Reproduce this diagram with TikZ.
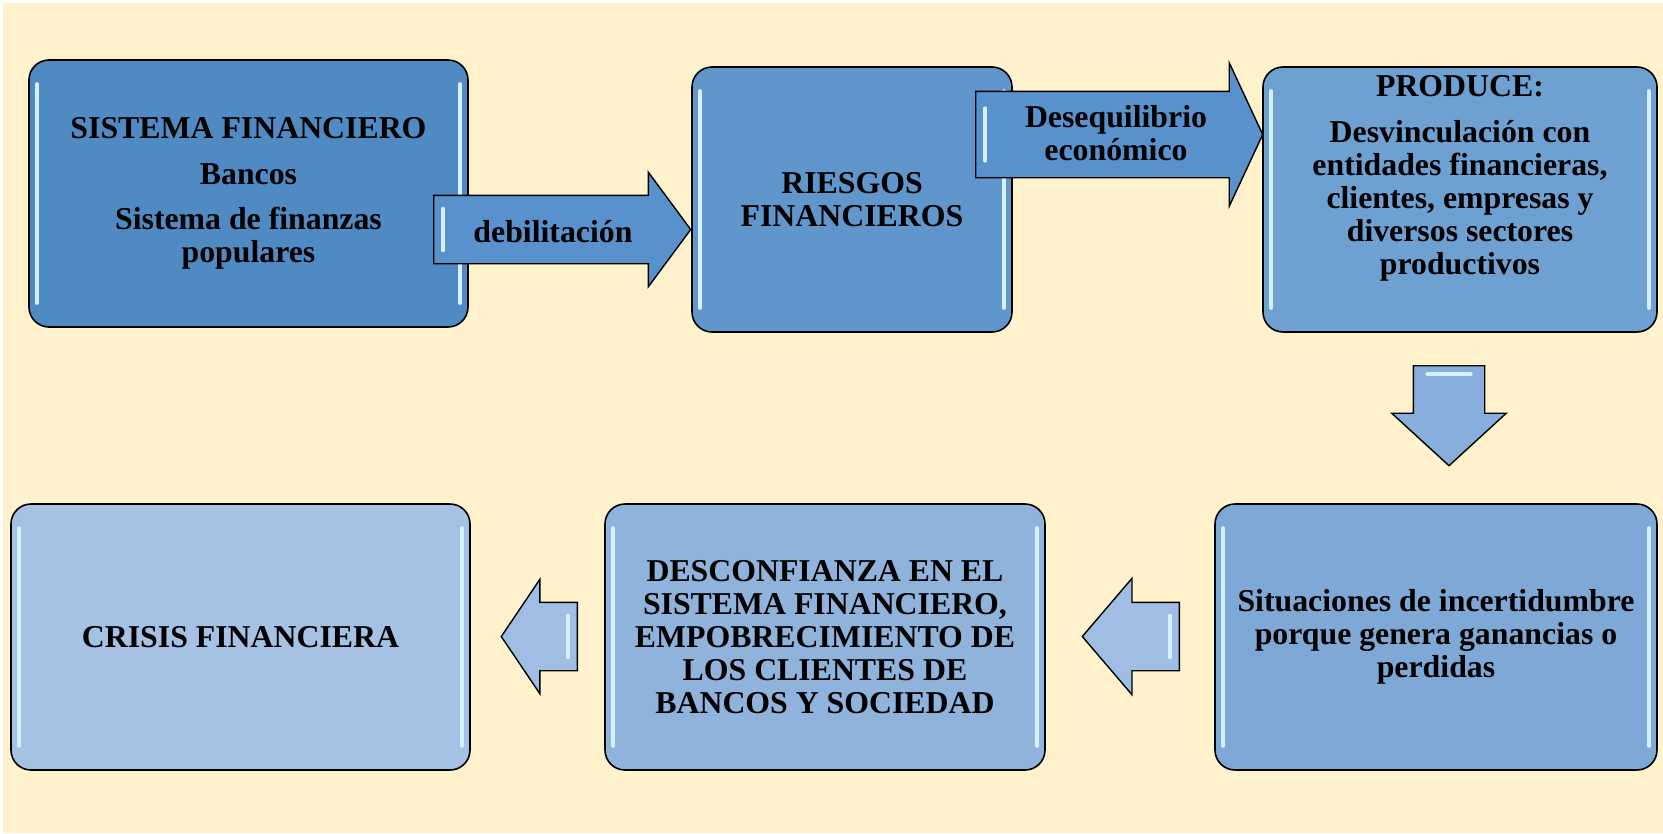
\documentclass[tikz,border=0pt]{standalone}
\usepackage{fontspec}
\setmainfont{Liberation Serif}
\usetikzlibrary{shapes.arrows, calc}

\definecolor{fondo}{RGB}{255,242,204}
\definecolor{azulA}{RGB}{80,138,194}
\definecolor{azulB}{RGB}{96,150,203}
\definecolor{azulC}{RGB}{110,160,210}
\definecolor{azulD}{RGB}{126,168,214}
\definecolor{azulE}{RGB}{144,179,220}
\definecolor{azulF}{RGB}{165,193,228}
\definecolor{flechaA}{RGB}{88,145,204}
\definecolor{flechaB}{RGB}{135,174,220}
\definecolor{flechaC}{RGB}{160,190,228}
\definecolor{brillo}{RGB}{215,240,255}

\begin{document}
\begin{tikzpicture}[
            x=1pt, y=-1pt,
            every node/.style={font=\fontsize{31.8}{33}\selectfont\bfseries, align=center},
            glint/.style={brillo, line width=3.6pt, line cap=round},
            glossy/.style={path picture={
                \draw[glint]
                    ([xshift=8pt,yshift=-24pt]path picture bounding box.north west) --
                    ([xshift=8pt,yshift=24pt]path picture bounding box.south west);
                \draw[glint]
                    ([xshift=-8pt,yshift=-24pt]path picture bounding box.north east) --
                    ([xshift=-8pt,yshift=24pt]path picture bounding box.south east);
            }},
            box/.style={rectangle, rounded corners=20pt, draw=black, line width=1.6pt, inner sep=0pt, glossy},
            flecha/.style={single arrow, draw=black, line width=1.4pt, inner sep=0pt,
                text height=0pt, text depth=0pt, anchor=tail},
            etiq/.style={inner sep=0pt}
        ]
        % fondo
        \fill[white] (0,0) rectangle (1663,833);
        \fill[fondo] (3,3) rectangle (1663,833);
        \useasboundingbox (0,0) rectangle (1663,833);

        % fila de arriba
        \node (sistema) at (248.5,193.5) [box, fill=azulA, minimum width=439pt, minimum height=267pt]
            {SISTEMA FINANCIERO\\[13pt] Bancos\\[12pt] Sistema de finanzas\\ populares};
        \node (riesgos) at (852,199.5) [box, fill=azulB, minimum width=320pt, minimum height=265pt]
            {RIESGOS\\ FINANCIEROS};
        \node (produce) at (1460,199.5) [box, fill=azulC, minimum width=394pt, minimum height=265pt] {};
        \node (producetxt) at ([yshift=-9pt]produce.north) [etiq, anchor=north]
            {PRODUCE:\\[13pt] Desvinculación con\\ entidades financieras,\\ clientes, empresas y\\ diversos sectores\\ productivos};

        % fila de abajo
        \node (situaciones) at (1436,637) [box, fill=azulD, minimum width=442pt, minimum height=266pt]
            {Situaciones de incertidumbre\\ porque genera ganancias o\\ perdidas};
        \node (desconfianza) at (825,637) [box, fill=azulE, minimum width=440pt, minimum height=266pt]
            {DESCONFIANZA EN EL\\ SISTEMA FINANCIERO,\\ EMPOBRECIMIENTO DE\\ LOS CLIENTES DE\\ BANCOS Y SOCIEDAD};
        \node (crisis) at (240.5,637) [box, fill=azulF, minimum width=459pt, minimum height=266pt]
            {CRISIS FINANCIERA};

        % flechas
        \node (debil) at (433,229.5) [flecha, fill=flechaA, inner ysep=33.5pt, minimum height=257pt,
            single arrow head extend=23pt, single arrow tip angle=107] {};
        \draw[glint] ($(debil.after tail)!0.2!(debil.before tail)+(10,0)$) -- ($(debil.after tail)!0.8!(debil.before tail)+(10,0)$);
        \node (debiltxt) at (553,242) [etiq, anchor=base] {debilitación};

        \node (deseq) at (975,134.5) [flecha, fill=flechaA, inner ysep=42.5pt, minimum height=287pt,
            single arrow head extend=28.5pt, single arrow tip angle=130] {};
        \draw[glint] ($(deseq.after tail)!0.2!(deseq.before tail)+(10,0)$) -- ($(deseq.after tail)!0.8!(deseq.before tail)+(10,0)$);
        \node (deseqtxt) at (1116,133) [etiq] {Desequilibrio\\ económico};

        \node (baja) at (1449,365) [flecha, fill=flechaB, shape border rotate=270, inner xsep=35pt,
            minimum height=100pt, single arrow head extend=21.5pt, single arrow tip angle=95] {};
        \draw[glint] ($(baja.after tail)!0.2!(baja.before tail)+(0,9)$) -- ($(baja.after tail)!0.8!(baja.before tail)+(0,9)$);

        \node (izqB) at (1180,636.5) [flecha, fill=flechaC, shape border rotate=180, inner ysep=33.5pt,
            minimum height=97pt, single arrow head extend=24pt, single arrow tip angle=99] {};
        \draw[glint] ($(izqB.after tail)!0.2!(izqB.before tail)+(-10,0)$) -- ($(izqB.after tail)!0.8!(izqB.before tail)+(-10,0)$);
        \node (izqA) at (578,636.5) [flecha, fill=flechaC, shape border rotate=180, inner ysep=33.5pt,
            minimum height=76pt, single arrow head extend=23pt, single arrow tip angle=112] {};
        \draw[glint] ($(izqA.after tail)!0.2!(izqA.before tail)+(-10,0)$) -- ($(izqA.after tail)!0.8!(izqA.before tail)+(-10,0)$);
        \end{tikzpicture}
\end{document}
